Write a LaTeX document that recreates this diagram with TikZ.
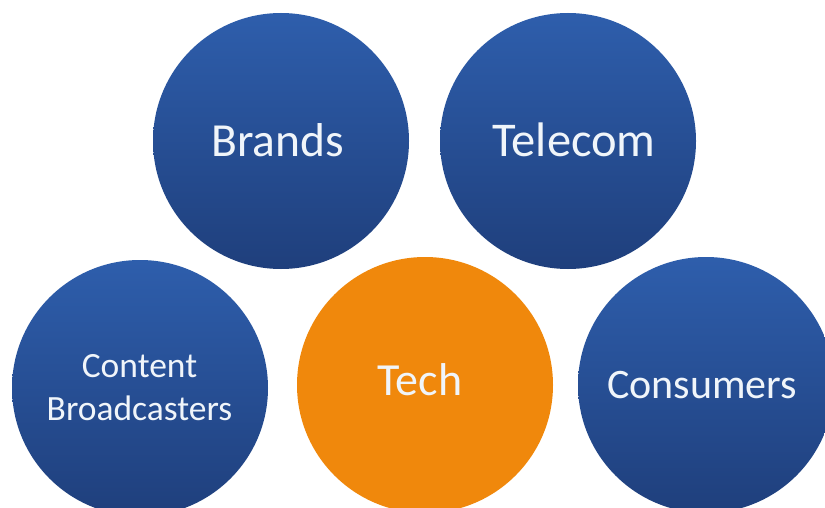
\documentclass[tikz,border=0pt]{standalone}
\usepackage{fontspec}
\setmainfont{Carlito}
\definecolor{bluetop}{RGB}{46,94,172}
\definecolor{bluebot}{RGB}{31,63,124}
\definecolor{orangefill}{RGB}{240,136,12}
\definecolor{txt}{RGB}{240,245,250}
\tikzset{
  bubble/.style={circle, minimum size=256pt, inner sep=0pt},
  bluebubble/.style={bubble, top color=bluetop, bottom color=bluebot},
  orangebubble/.style={bubble, fill=orangefill},
  label text/.style={anchor=base, inner sep=0pt, text=txt}
}
\begin{document}
\begin{tikzpicture}[x=1pt,y=-1pt]
\useasboundingbox (0,0) rectangle (825,508);
\clip (0,0) rectangle (825,508);
\fill[white] (0,0) rectangle (825,508);
\node[bluebubble] (brands) at (281,141) {};
\node[bluebubble] (telecom) at (568,141) {};
\node[bluebubble] (content) at (140,388) {};
\node[orangebubble] (tech) at (425,385) {};
\node[bluebubble] (consumers) at (706,385) {};
\node[label text, font=\fontsize{47.5}{50}\selectfont] (brandsT) at (277.5,157) {Brands};
\node[label text, font=\fontsize{48.5}{50}\selectfont] (telecomT) at (574,157) {Telecom};
\node[label text, font=\fontsize{35.5}{43}\selectfont] (contentT1) at (139.5,377) {Content};
\node[label text, font=\fontsize{35.5}{43}\selectfont] (contentT2) at (139.5,420) {Broadcasters};
\node[label text, font=\fontsize{46}{50}\selectfont] (techT) at (420,395) {Tech};
\node[label text, font=\fontsize{42}{50}\selectfont] (consumersT) at (702,398) {Consumers};
\end{tikzpicture}
\end{document}
